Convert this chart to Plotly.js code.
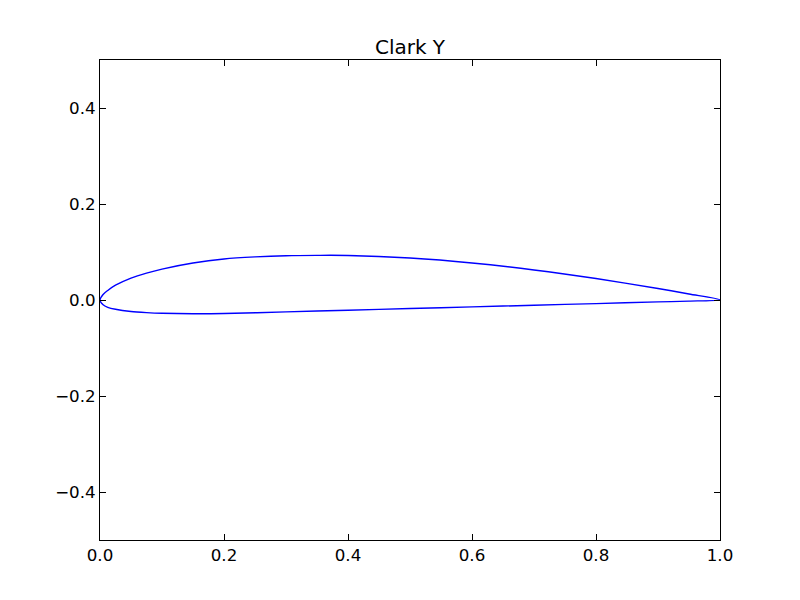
<!DOCTYPE html>
<html>
<head>
<meta charset="utf-8">
<script src="https://cdn.plot.ly/plotly-3.0.1.min.js"></script>
<style>html,body{margin:0;padding:0;background:#fff;}#chart{width:800px;height:600px;}</style>
</head>
<body>
<div id="chart"></div>
<script>
// Clark Y airfoil (chord normalised, LE and TE on y = 0)
const upperX = [1.0, 0.95, 0.9, 0.8, 0.7, 0.6, 0.5, 0.4, 0.35, 0.3, 0.25, 0.2, 0.15, 0.1, 0.075, 0.05, 0.025, 0.0125, 0.005, 0.0];
const upperY = [0.0006, 0.0126, 0.0240, 0.0447, 0.0626, 0.0771, 0.0874, 0.0928, 0.0930, 0.0923, 0.0898, 0.0855, 0.0770, 0.0644, 0.0561, 0.0457, 0.0309, 0.0199, 0.0115, 0.0];
const lowerX = [0.0, 0.005, 0.0125, 0.025, 0.05, 0.075, 0.1, 0.15, 0.2, 0.3, 0.4, 0.5, 0.6, 0.7, 0.8, 0.9, 0.95, 1.0];
const lowerY = [0.0, -0.0100, -0.0153, -0.0194, -0.0240, -0.0263, -0.0277, -0.0287, -0.0282, -0.0247, -0.0212, -0.0178, -0.0144, -0.0109, -0.0075, -0.0040, -0.0023, 0.0006];
const titleText = "Clark Y";
const xTicks = [0.0, 0.2, 0.4, 0.6, 0.8, 1.0];
const yTicks = [-0.4, -0.2, 0.0, 0.2, 0.4];

const xs = upperX.concat(lowerX.slice(1));
const ys = upperY.concat(lowerY.slice(1));

const font = {family: "DejaVu Sans, sans-serif", size: 16.7, color: "#000"};
const axisCommon = {
  showline: true, linecolor: "#000", linewidth: 1, mirror: "ticks",
  ticks: "inside", ticklen: 6, tickwidth: 1, tickcolor: "#000",
  showgrid: false, zeroline: false, tickformat: ".1f", tickmode: "array",
  tickfont: font
};

Plotly.newPlot("chart", [{
  x: xs, y: ys, type: "scatter", mode: "lines",
  line: {color: "#0000ff", width: 1.4, shape: "spline", smoothing: 0.8},
  hoverinfo: "skip"
}], {
  width: 800, height: 600,
  margin: {l: 100, r: 80, t: 60, b: 60},
  paper_bgcolor: "#fff", plot_bgcolor: "#fff",
  showlegend: false,
  font: font,
  title: {text: titleText, font: {family: "DejaVu Sans, sans-serif", size: 20, color: "#000"},
          x: 0.5, xref: "paper", xanchor: "center", y: 0.922, yref: "container", yanchor: "middle"},
  xaxis: Object.assign({}, axisCommon, {range: [0, 1], tickvals: xTicks}),
  yaxis: Object.assign({}, axisCommon, {range: [-0.5, 0.5], tickvals: yTicks})
}, {staticPlot: true, displayModeBar: false});
</script>
</body>
</html>
